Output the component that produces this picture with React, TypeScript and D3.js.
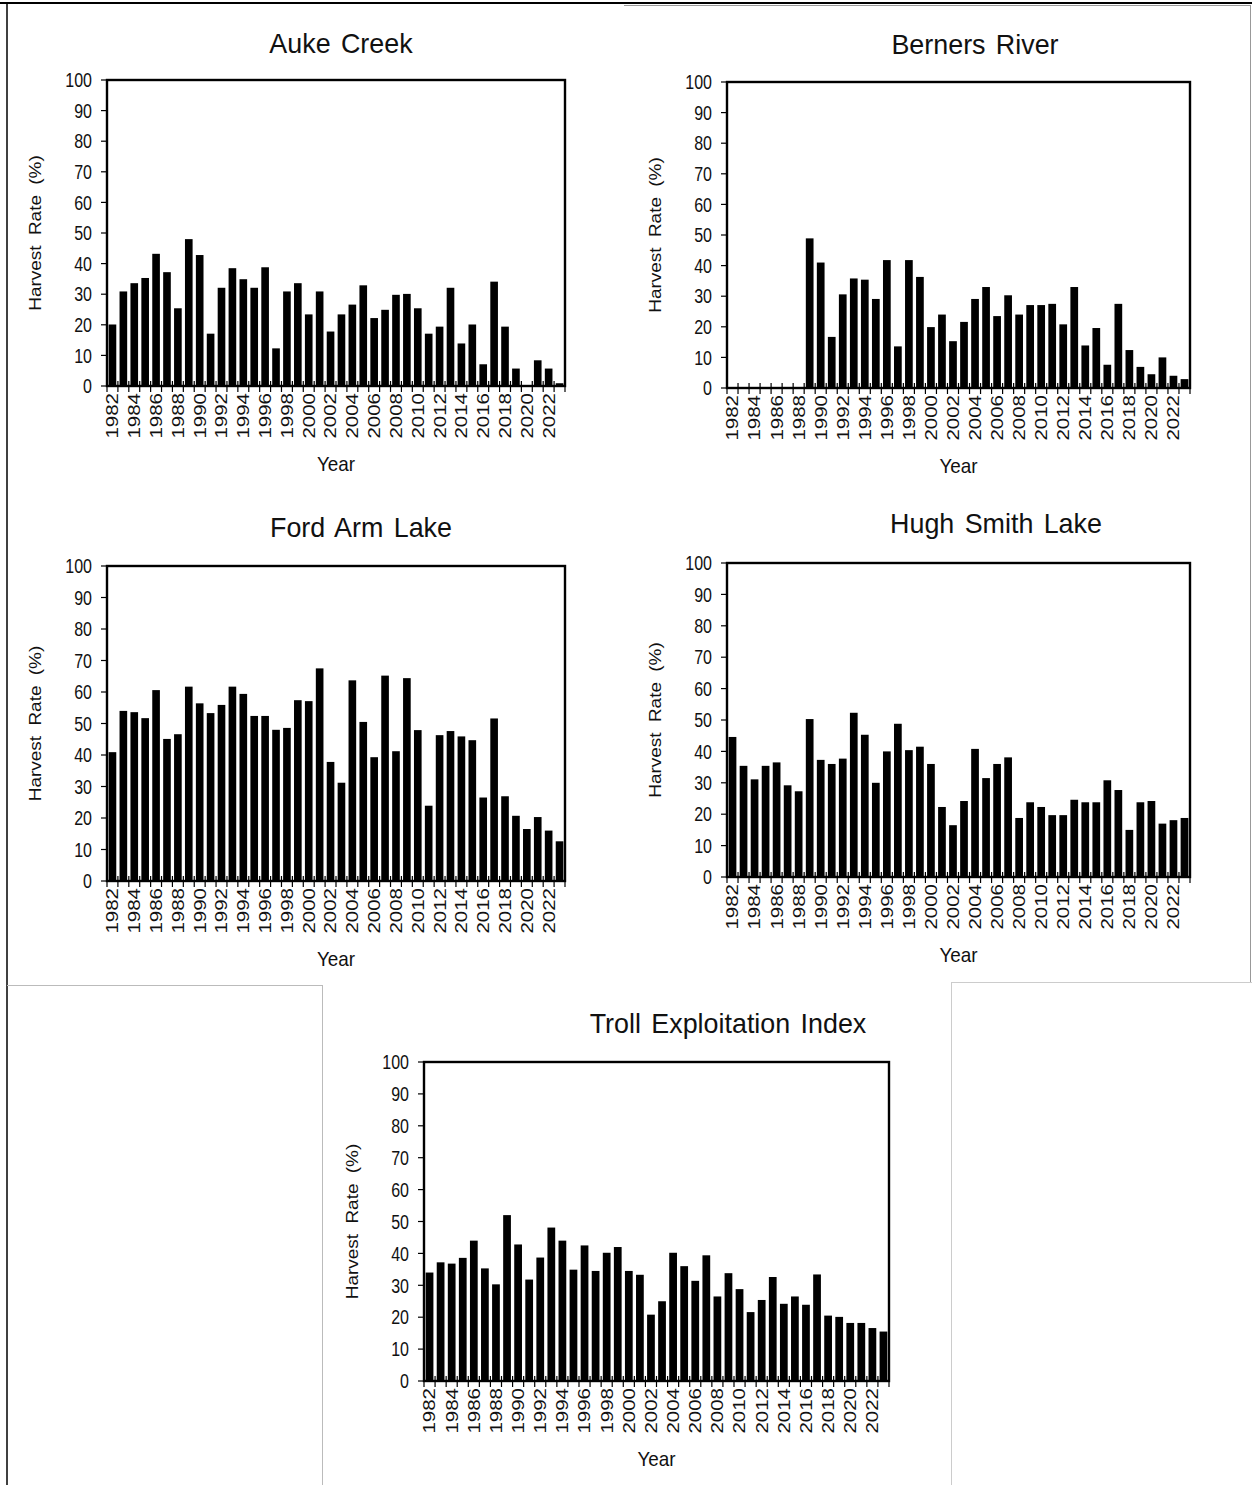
import React from "react";
import { scaleBand, scaleLinear, range } from "d3";

// years shown on every panel
const years = range(1982, 2024);
const yTicks = [0, 10, 20, 30, 40, 50, 60, 70, 80, 90, 100];
const yearLabels = years.filter((y) => (y - 1982) % 2 === 0);

// harvest rate (%), 1982..2023
const aukeCreek = [20.1, 30.9, 33.6, 35.3, 43.2, 37.2, 25.4, 48.0, 42.8, 17.1, 32.1, 38.5, 34.9, 32.1, 38.8, 12.3, 30.9, 33.6, 23.4, 30.9, 17.8, 23.4, 26.6, 32.9, 22.2, 24.9, 29.8, 30.1, 25.4, 17.1, 19.4, 32.1, 13.9, 20.1, 7.1, 34.1, 19.4, 5.7, 0, 8.4, 5.7, 0.9];
const bernersRiver = [null, null, null, null, null, null, null, 48.9, 41.0, 16.7, 30.6, 35.8, 35.4, 29.1, 41.8, 13.6, 41.8, 36.3, 19.9, 24.0, 15.3, 21.6, 29.1, 33.0, 23.5, 30.3, 24.0, 27.1, 27.1, 27.5, 20.8, 33.0, 13.9, 19.6, 7.6, 27.5, 12.4, 6.9, 4.5, 10.0, 4.0, 2.9];
const fordArmLake = [40.9, 54.0, 53.6, 51.7, 60.6, 45.1, 46.6, 61.7, 56.4, 53.3, 55.9, 61.7, 59.4, 52.4, 52.4, 48.0, 48.6, 57.4, 57.1, 67.5, 37.8, 31.2, 63.7, 50.5, 39.3, 65.2, 41.2, 64.4, 47.9, 23.9, 46.3, 47.6, 45.9, 44.7, 26.5, 51.6, 26.9, 20.7, 16.5, 20.3, 16.0, 12.6];
const hughSmithLake = [44.6, 35.4, 31.1, 35.4, 36.5, 29.2, 27.3, 50.3, 37.3, 36.0, 37.7, 52.3, 45.3, 30.0, 40.0, 48.8, 40.4, 41.5, 36.0, 22.3, 16.5, 24.2, 40.8, 31.5, 36.0, 38.1, 18.8, 23.8, 22.3, 19.7, 19.7, 24.6, 23.8, 23.8, 30.8, 27.7, 15.0, 23.8, 24.2, 17.0, 18.1, 18.8];
const trollIndex = [34.0, 37.2, 36.8, 38.6, 44.0, 35.3, 30.3, 52.0, 42.8, 31.8, 38.7, 48.1, 44.0, 34.9, 42.5, 34.5, 40.2, 42.0, 34.5, 33.3, 20.8, 25.0, 40.2, 36.0, 31.4, 39.4, 26.5, 33.8, 28.8, 21.6, 25.4, 32.6, 24.2, 26.5, 23.9, 33.4, 20.5, 20.1, 18.2, 18.2, 16.6, 15.5];

const font = "'Liberation Sans', Arial, sans-serif";
const ink = "#111";

const panels = [
  { title: "Auke Creek", values: aukeCreek, left: 107, top: 80, width: 458, height: 306, titleX: 341, titleY: 53 },
  { title: "Berners River", values: bernersRiver, left: 727, top: 82, width: 463, height: 306, titleX: 975, titleY: 54 },
  { title: "Ford Arm Lake", values: fordArmLake, left: 107, top: 566, width: 458, height: 315, titleX: 361, titleY: 537 },
  { title: "Hugh Smith Lake", values: hughSmithLake, left: 727, top: 563, width: 463, height: 314, titleX: 996, titleY: 533 },
  { title: "Troll Exploitation Index", values: trollIndex, left: 424, top: 1062, width: 465, height: 319, titleX: 728, titleY: 1033 },
];

function Panel({ p }) {
  const x = scaleBand().domain(years).range([p.left, p.left + p.width]).paddingInner(0.3).paddingOuter(0.15);
  const y = scaleLinear().domain([0, 100]).range([p.top + p.height, p.top]);
  const step = p.width / years.length;
  const bottom = p.top + p.height;
  return (
    <g>
      <text transform={`translate(${p.titleX},${p.titleY}) scale(0.96,1)`} textAnchor="middle" fontSize={28} fontFamily={font} fill={ink} wordSpacing={3}>
        {p.title}
      </text>
      {p.values.map((v, i) =>
        v == null ? null : (
          <rect key={i} x={x(years[i])} y={y(v)} width={x.bandwidth()} height={bottom - y(v)} fill="#000" />
        )
      )}
      {years.concat([2024]).map((yr, i) => (
        <line key={"t" + i} x1={p.left + i * step} x2={p.left + i * step} y1={bottom - 5} y2={bottom + 6} stroke="#000" strokeWidth={1.2} />
      ))}
      <rect x={p.left} y={p.top} width={p.width} height={p.height} fill="none" stroke="#000" strokeWidth={2.4} />
      {yTicks.map((t) => (
        <g key={t}>
          <line x1={p.left - 6} x2={p.left} y1={y(t)} y2={y(t)} stroke="#000" strokeWidth={1.2} />
          <text transform={`translate(${p.left - 15},${y(t)}) scale(0.8,1)`} dy="0.36em" textAnchor="end" fontSize={20} fontFamily={font} fill={ink}>
            {t}
          </text>
        </g>
      ))}
      {yearLabels.map((yr) => {
        const cx = x(yr) + x.bandwidth() / 2;
        return (
          <text key={yr} transform={`translate(${cx},${bottom + 7}) rotate(-90) scale(1,0.8)`} dy="0.36em" textAnchor="end" fontSize={20.5} fontFamily={font} fill={ink}>
            {yr}
          </text>
        );
      })}
      <text transform={`translate(${p.left - 72},${p.top + p.height / 2}) rotate(-90) scale(1,0.85)`} dy="0.36em" textAnchor="middle" fontSize={19} fontFamily={font} fill={ink} wordSpacing={5}>
        Harvest Rate (%)
      </text>
      <text transform={`translate(${p.left + p.width / 2},${bottom + 85}) scale(0.9,1)`} textAnchor="middle" fontSize={21} fontFamily={font} fill={ink}>
        Year
      </text>
    </g>
  );
}

export default function App() {
  return (
    <div style={{ position: "absolute", left: 0, top: 0 }}>
      <svg width={1252} height={1485} style={{ display: "block", background: "#fff" }}>
        {/* page frame */}
        <line x1={0} x2={1252} y1={3} y2={3} stroke="#000" strokeWidth={2} />
        <line x1={624} x2={1251} y1={5.5} y2={5.5} stroke="#999" strokeWidth={1} />
        <line x1={1250.5} x2={1250.5} y1={5} y2={982} stroke="#999" strokeWidth={1} />
        <line x1={7} x2={7} y1={3} y2={1485} stroke="#000" strokeWidth={1.5} />
        <line x1={7} x2={322} y1={985.5} y2={985.5} stroke="#bbb" strokeWidth={1} />
        <line x1={322.5} x2={322.5} y1={985} y2={1485} stroke="#bbb" strokeWidth={1} />
        <line x1={951} x2={1252} y1={982.5} y2={982.5} stroke="#ccc" strokeWidth={1} />
        <line x1={951.5} x2={951.5} y1={982} y2={1485} stroke="#ccc" strokeWidth={1} />
        {panels.map((p) => (
          <Panel key={p.title} p={p} />
        ))}
      </svg>
    </div>
  );
}
